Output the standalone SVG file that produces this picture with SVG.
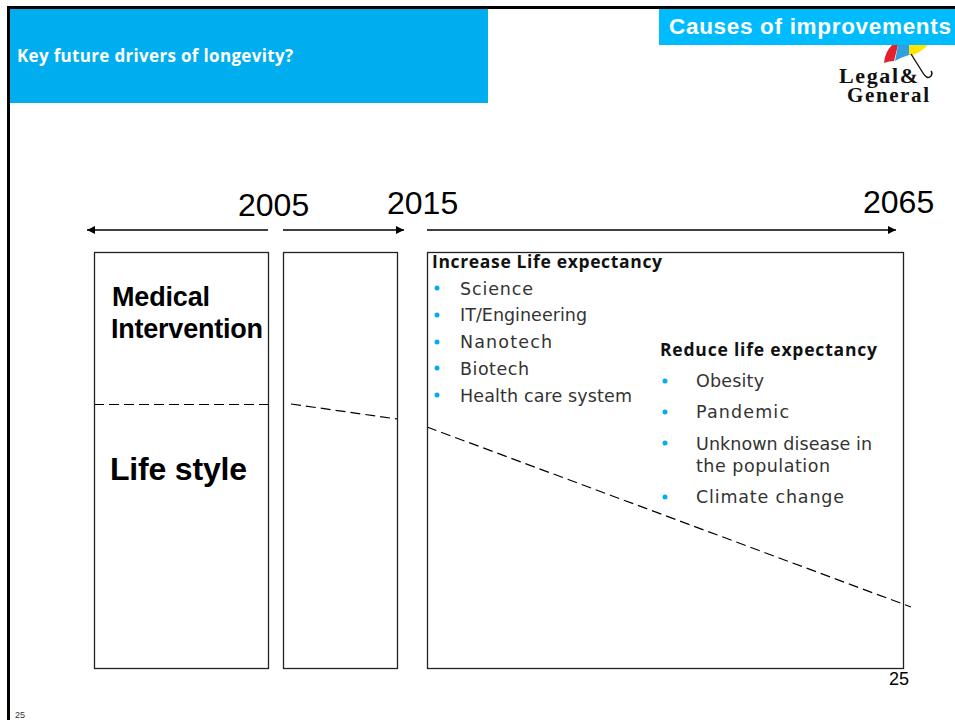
<svg xmlns="http://www.w3.org/2000/svg" width="955" height="720" viewBox="0 0 955 720">
<style>
.box{fill:none;stroke:#222;stroke-width:1.3}
.dash{fill:none;stroke:#000;stroke-width:1.2;stroke-dasharray:10 5}
.arrow{fill:none;stroke:#000;stroke-width:1.3;marker-end:url(#ah)}
.a{font-family:"Liberation Sans",Arial,sans-serif;fill:#000}
.g{font-family:"DejaVu Sans","Open Sans",sans-serif;fill:#333;font-size:17.500px}
.h{font-family:"Open Sans","DejaVu Sans",sans-serif;fill:#111;font-size:17.5px;font-weight:700}
.bu{fill:#00aeef}
.big{font-size:32px}
.lg{font-family:"Liberation Serif",serif;font-size:22px;font-weight:700;fill:#111}
</style>
<defs>
<marker id="ah" markerWidth="9" markerHeight="8" refX="8" refY="4" orient="auto-start-reverse" markerUnits="userSpaceOnUse"><path d="M0 0L8 4L0 8Z" fill="#000"/></marker>
</defs>
<rect width="955" height="720" fill="#fff"/>
<g id="frame"><path d="M8.5 720V7.500H955" fill="none" stroke="#000" stroke-width="3"/></g>
<g id="title"><rect x="10" y="9" width="478" height="94" fill="#00aeef"/>
<text x="17" y="62" font-family="'Open Sans',Lato,sans-serif" font-size="17" font-weight="700" fill="#fff" textLength="276">Key future drivers of longevity?</text></g>
<g id="logo">
<path d="M884 63Q885 52 892 45H898L894 61Q889 61 884 63Z" fill="#e3202c"/>
<path d="M895 61L898 45H909V55Q902 57 895 61Z" fill="#2f9fe0"/>
<path d="M909 45H928Q921 52 913 55L909 55Z" fill="#ffe500"/>
<path d="M911 54L923 73Q927 80 931 76Q933 73 931 71" fill="none" stroke="#111" stroke-width="1.4"/>
<text class="lg" x="839" y="83" textLength="79">Legal&amp;</text>
<text class="lg" x="847" y="102" style="font-size:21px" textLength="82">General</text>
</g>
<g id="tag"><rect x="659" y="9" width="296" height="36" fill="#00bcff"/>
<text x="669" y="34" class="a" style="fill:#fff;font-size:22.500px;font-weight:700" textLength="282">Causes of improvements</text></g>
<g id="years">
<text x="238" y="216" class="a big">2005</text>
<text x="387" y="214" class="a big">2015</text>
<text x="863" y="213" class="a big">2065</text>
</g>
<g id="connectors">
<path class="arrow" d="M268 230H87"/>
<path class="arrow" d="M283 230H404"/>
<path class="arrow" d="M427 230H896"/>
<path class="dash" d="M94 404.500H268"/>
<path class="dash" d="M291 404L397 419"/>
<path class="dash" d="M427 427L911 607"/>
</g>
<g id="box-history"><rect class="box" x="94.500" y="252.500" width="174" height="416"/>
<text x="112" y="306" class="a" style="font-size:27px;font-weight:700" textLength="98">Medical</text>
<text x="111" y="338" class="a" style="font-size:27px;font-weight:700" textLength="152">Intervention</text>
<text x="110" y="480" class="a" style="font-size:32px;font-weight:700" textLength="137">Life style</text></g>
<g id="box-recent"><rect class="box" x="283.500" y="252.500" width="114" height="416"/></g>
<g id="box-future"><rect class="box" x="427.500" y="252.500" width="476" height="416"/>
<text x="432" y="268" class="h" textLength="230">Increase Life expectancy</text>
<g><circle class="bu" cx="437" cy="288" r="2.500"/><text x="460" y="295" class="g" textLength="73">Science</text></g>
<g><circle class="bu" cx="437" cy="315" r="2.500"/><text x="460" y="321" class="g" textLength="127">IT/Engineering</text></g>
<g><circle class="bu" cx="437" cy="342" r="2.500"/><text x="460" y="348" class="g" textLength="92">Nanotech</text></g>
<g><circle class="bu" cx="437" cy="368" r="2.500"/><text x="460" y="375" class="g" textLength="69">Biotech</text></g>
<g><circle class="bu" cx="437" cy="395" r="2.500"/><text x="460" y="402" class="g" textLength="172">Health care system</text></g>
<text x="660" y="356" class="h" textLength="217">Reduce life expectancy</text>
<g><circle class="bu" cx="665" cy="381" r="2.500"/><text x="696" y="387" class="g" textLength="68">Obesity</text></g>
<g><circle class="bu" cx="665" cy="412" r="2.500"/><text x="696" y="418" class="g" textLength="93">Pandemic</text></g>
<g><circle class="bu" cx="665" cy="443" r="2.500"/><text x="696" y="450" class="g" textLength="176">Unknown disease in</text><text x="696" y="472" class="g" textLength="134">the population</text></g>
<g><circle class="bu" cx="665" cy="497" r="2.500"/><text x="696" y="503" class="g" textLength="148">Climate change</text></g>
<text x="889" y="685" class="a" style="font-size:18px">25</text></g>
<text id="footer" x="15" y="718" class="a" style="font-size:9px;fill:#333">25</text>
</svg>
